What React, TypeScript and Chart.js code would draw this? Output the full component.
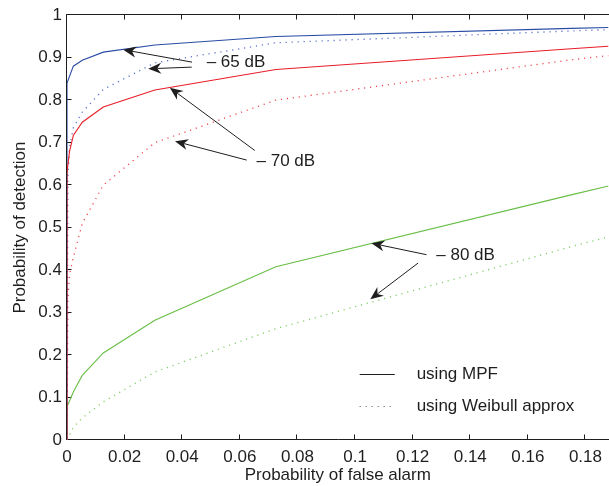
import React, { useEffect, useRef } from 'react';
import { Chart, registerables } from 'chart.js';

Chart.register(...registerables);

// ---- Data ----
const mpf65X = [0, 0, 0.0022, 0.0053, 0.0126, 0.0305, 0.0725, 0.175, 0.188];
const mpf65Y = [0, 0.84, 0.88, 0.894, 0.913, 0.93, 0.95, 0.969, 0.971];

const mpf70X = [0, 0, 0.0009, 0.0022, 0.0053, 0.0126, 0.0305, 0.0725, 0.175, 0.188];
const mpf70Y = [0, 0.63, 0.68, 0.717, 0.748, 0.784, 0.824, 0.872, 0.921, 0.927];

const mpf80X = [0, 0, 0.0022, 0.0053, 0.0126, 0.0305, 0.0725, 0.175, 0.188];
const mpf80Y = [0, 0.078, 0.113, 0.152, 0.205, 0.282, 0.408, 0.577, 0.598];

const wei65X = [0, 0.0003, 0.0009, 0.0022, 0.0053, 0.0126, 0.0305, 0.0725, 0.175, 0.188];
const wei65Y = [0, 0.62, 0.69, 0.735, 0.772, 0.825, 0.888, 0.935, 0.963, 0.966];

const wei70X = [0, 0.0003, 0.0009, 0.0022, 0.0053, 0.0126, 0.0305, 0.0725, 0.175, 0.188];
const wei70Y = [0, 0.33, 0.39, 0.43, 0.51, 0.6, 0.7, 0.8, 0.895, 0.905];

const wei80X = [0, 0.0022, 0.0053, 0.0126, 0.0305, 0.0725, 0.175, 0.188];
const wei80Y = [0, 0.03, 0.052, 0.09, 0.16, 0.262, 0.455, 0.478];

const xTicks = [0, 0.02, 0.04, 0.06, 0.08, 0.1, 0.12, 0.14, 0.16, 0.18];
const xTickLabels = ['0', '0.02', '0.04', '0.06', '0.08', '0.1', '0.12', '0.14', '0.16', '0.18'];
const yTicks = [0, 0.1, 0.2, 0.3, 0.4, 0.5, 0.6, 0.7, 0.8, 0.9, 1];
const yTickLabels = ['0', '0.1', '0.2', '0.3', '0.4', '0.5', '0.6', '0.7', '0.8', '0.9', '1'];

const xMin = 0;
const xMax = 0.188;
const yMin = 0;
const yMax = 1;

const xTitle = 'Probability of false alarm';
const yTitle = 'Probability of detection';

// annotation labels (data coordinates) and arrows [tailX, tailY, tipX, tipY]
const noteLabels = ['\u2013 65 dB', '\u2013 70 dB', '\u2013 80 dB'];
const noteLabelX = [0.0485, 0.0658, 0.1282];
const noteLabelY = [0.8885, 0.6565, 0.4346];
const noteArrows = [
  [0.0434, 0.8895, 0.0195, 0.9189],
  [0.0433, 0.8778, 0.0282, 0.8738],
  [0.0652, 0.6815, 0.0357, 0.8294],
  [0.0624, 0.6589, 0.0375, 0.7033],
  [0.1248, 0.4362, 0.1057, 0.4633],
  [0.1219, 0.4166, 0.1053, 0.3311],
];

const legendLabels = ['using MPF', 'using Weibull approx'];
const legendLineX = [0.1016, 0.1138];
const legendTextX = 0.1214;
const legendY = [0.1542, 0.0794];

const BLUE = 'rgb(40,75,165)';
const RED = 'rgb(232,30,40)';
const GREEN = 'rgb(105,190,70)';
const BLUE_DOT = 'rgb(90,115,200)';
const RED_DOT = 'rgb(240,70,80)';
const GREEN_DOT = 'rgb(130,205,100)';
const INK = '#1e1e1e';
const FONT = '"Liberation Sans", Arial, Helvetica, sans-serif';

const pts = (xs: number[], ys: number[]) => xs.map((x, i) => ({ x, y: ys[i] }));

const overlay = {
  id: 'overlay',
  beforeDatasetsDraw(chart: any) {
    const { ctx, chartArea } = chart;
    const xs = chart.scales.x;
    const ys = chart.scales.y;
    const L = Math.round(chartArea.left) - 0.5;
    const B = Math.round(chartArea.bottom) - 0.5;
    const T = Math.round(chartArea.top) - 0.5;
    const R = chartArea.right + 2;
    ctx.save();
    ctx.strokeStyle = INK;
    ctx.lineWidth = 1;
    ctx.beginPath();
    ctx.moveTo(L, T);
    ctx.lineTo(R, T);
    ctx.moveTo(L, T);
    ctx.lineTo(L, B);
    ctx.lineTo(R, B);
    const tl = 5;
    xTicks.forEach((v) => {
      const px = Math.round(xs.getPixelForValue(v)) - 0.5;
      ctx.moveTo(px, B);
      ctx.lineTo(px, B - tl);
      ctx.moveTo(px, T);
      ctx.lineTo(px, T + tl);
    });
    yTicks.forEach((v) => {
      const py = Math.round(ys.getPixelForValue(v)) - 0.5;
      ctx.moveTo(L, py);
      ctx.lineTo(L + tl, py);
    });
    ctx.stroke();
    ctx.restore();
  },
  afterDatasetsDraw(chart: any) {
    const { ctx } = chart;
    const xs = chart.scales.x;
    const ys = chart.scales.y;
    const px = (v: number) => xs.getPixelForValue(v);
    const py = (v: number) => ys.getPixelForValue(v);
    ctx.save();
    ctx.fillStyle = INK;
    ctx.strokeStyle = INK;
    ctx.font = `17px ${FONT}`;
    ctx.textBaseline = 'middle';
    ctx.textAlign = 'left';
    noteLabels.forEach((t, i) => ctx.fillText(t, px(noteLabelX[i]), py(noteLabelY[i])));
    noteArrows.forEach(([x1, y1, x2, y2]) => {
      const ax = px(x1), ay = py(y1), bx = px(x2), by = py(y2);
      const ang = Math.atan2(by - ay, bx - ax);
      const c = Math.cos(ang), s = Math.sin(ang);
      const Lh = 13, W = 5.5, N = 4;
      ctx.lineWidth = 1;
      ctx.beginPath();
      ctx.moveTo(ax, ay);
      ctx.lineTo(bx - (Lh - N) * c, by - (Lh - N) * s);
      ctx.stroke();
      ctx.beginPath();
      ctx.moveTo(bx, by);
      ctx.lineTo(bx - Lh * c + W * s, by - Lh * s - W * c);
      ctx.lineTo(bx - (Lh - N) * c, by - (Lh - N) * s);
      ctx.lineTo(bx - Lh * c - W * s, by - Lh * s + W * c);
      ctx.closePath();
      ctx.fill();
    });
    // legend
    ctx.lineWidth = 1;
    legendLabels.forEach((t, i) => {
      const yy = Math.round(py(legendY[i])) + 0.5;
      ctx.setLineDash(i === 0 ? [] : [1, 5]);
      ctx.strokeStyle = i === 0 ? INK : '#555';
      ctx.beginPath();
      ctx.moveTo(px(legendLineX[0]), yy);
      ctx.lineTo(px(legendLineX[1]), yy);
      ctx.stroke();
      ctx.setLineDash([]);
      ctx.fillText(t, px(legendTextX), py(legendY[i]));
    });
    ctx.restore();
  },
};

export default function App() {
  const ref = useRef<HTMLCanvasElement | null>(null);
  useEffect(() => {
    if (!ref.current) return;
    const solid = (label: string, xs: number[], ys: number[], color: string) => ({
      label,
      data: pts(xs, ys),
      borderColor: color,
      backgroundColor: color,
      borderWidth: 1.1,
      pointRadius: 0,
      fill: false,
      tension: 0,
    });
    const dotted = (label: string, xs: number[], ys: number[], color: string) => ({
      ...solid(label, xs, ys, color),
      borderDash: [1.2, 4.8],
      borderWidth: 1.3,
    });
    const chart = new Chart(ref.current, {
      type: 'line',
      data: {
        datasets: [
          solid('MPF -70 dB', mpf70X, mpf70Y, RED),
          solid('MPF -65 dB', mpf65X, mpf65Y, BLUE),
          solid('MPF -80 dB', mpf80X, mpf80Y, GREEN),
          dotted('Weibull -65 dB', wei65X, wei65Y, BLUE_DOT),
          dotted('Weibull -70 dB', wei70X, wei70Y, RED_DOT),
          dotted('Weibull -80 dB', wei80X, wei80Y, GREEN_DOT),
        ] as any,
      },
      options: {
        animation: false,
        responsive: true,
        maintainAspectRatio: false,
        layout: { padding: { top: 12, left: 0, right: 0, bottom: 0 } },
        plugins: { legend: { display: false }, tooltip: { enabled: false } },
        scales: {
          x: {
            type: 'linear',
            min: xMin,
            max: xMax,
            grid: { display: false, drawTicks: false },
            border: { display: false },
            ticks: {
              includeBounds: false,
              padding: 7,
              color: INK,
              font: { family: FONT, size: 17 },
              callback: (v: any) => {
                const i = xTicks.findIndex((t) => Math.abs(t - v) < 1e-9);
                return i >= 0 ? xTickLabels[i] : '';
              },
            },
            afterBuildTicks: (s: any) => {
              s.ticks = xTicks.map((value) => ({ value }));
            },
            afterFit: (s: any) => {
              s.height = 46;
            },
            title: {
              display: true,
              text: xTitle,
              color: INK,
              font: { family: FONT, size: 17 },
              padding: { top: 0, bottom: 0 },
            },
          },
          y: {
            type: 'linear',
            min: yMin,
            max: yMax,
            grid: { display: false, drawTicks: false },
            border: { display: false },
            ticks: {
              padding: 5,
              color: INK,
              font: { family: FONT, size: 17 },
              callback: (v: any) => {
                const i = yTicks.findIndex((t) => Math.abs(t - v) < 1e-9);
                return i >= 0 ? yTickLabels[i] : '';
              },
            },
            afterBuildTicks: (s: any) => {
              s.ticks = yTicks.map((value) => ({ value }));
            },
            afterFit: (s: any) => {
              s.width = 67;
            },
            title: {
              display: true,
              text: yTitle,
              color: INK,
              font: { family: FONT, size: 17 },
              padding: { top: 10, bottom: 0 },
            },
          },
        },
      },
      plugins: [overlay],
    } as any);
    return () => chart.destroy();
  }, []);
  return (
    <div style={{ position: 'fixed', left: 0, top: 0, width: 609, height: 486, background: '#fff' }}>
      <canvas ref={ref} />
    </div>
  );
}
